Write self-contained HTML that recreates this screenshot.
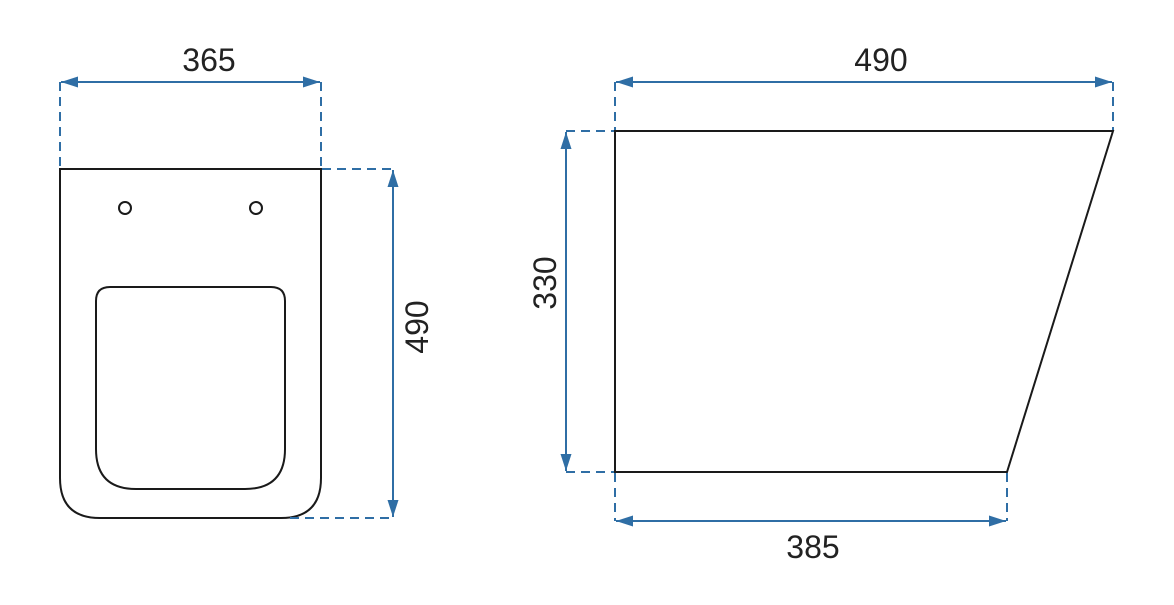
<!DOCTYPE html>
<html><head><meta charset="utf-8"><style>
html,body{margin:0;padding:0;background:#fff}
svg{display:block}
text{font-family:"Liberation Sans",sans-serif;font-size:32px;fill:#222}
</style></head><body>
<svg width="1174" height="605" viewBox="0 0 1174 605" xmlns="http://www.w3.org/2000/svg">
<defs>
<marker id="a" viewBox="0 0 17 11" refX="17" refY="5.5" markerWidth="17" markerHeight="11" markerUnits="userSpaceOnUse" orient="auto-start-reverse">
<path d="M0,0 L17,5.5 L0,11 Z" fill="#2f6ea5"/>
</marker>
</defs>
<g fill="none" stroke="#1a1a1a" stroke-width="2">
<path d="M60,169 H321 V478 Q321,518 281,518 H100 Q60,518 60,478 Z"/>
<path d="M110,287 H271 Q285,287 285,301 V449 Q285,489 245,489 H136 Q96,489 96,449 V301 Q96,287 110,287 Z"/>
<circle cx="125" cy="208" r="6"/>
<circle cx="256" cy="208" r="6"/>
<path d="M615,131 H1113 L1007,472 H615 Z"/>
</g>
<g fill="none" stroke="#2f6ea5" stroke-width="2" stroke-dasharray="9,6">
<path d="M60,82 V168"/>
<path d="M321,82 V168"/>
<path d="M322,169 H393"/>
<path d="M290,518 H393"/>
<path d="M615,82 V130"/>
<path d="M1113,82 V130"/>
<path d="M566,131 H614"/>
<path d="M566,472 H614"/>
<path d="M615,473 V521"/>
<path d="M1007,473 V521"/>
</g>
<g stroke="#2f6ea5" stroke-width="2">
<line x1="61" y1="82" x2="320" y2="82" marker-start="url(#a)" marker-end="url(#a)"/>
<line x1="393" y1="170" x2="393" y2="517" marker-start="url(#a)" marker-end="url(#a)"/>
<line x1="616" y1="82" x2="1112" y2="82" marker-start="url(#a)" marker-end="url(#a)"/>
<line x1="566" y1="132" x2="566" y2="471" marker-start="url(#a)" marker-end="url(#a)"/>
<line x1="616" y1="521" x2="1006" y2="521" marker-start="url(#a)" marker-end="url(#a)"/>
</g>
<text x="209" y="71" text-anchor="middle">365</text>
<text x="881" y="71" text-anchor="middle">490</text>
<text x="813" y="558" text-anchor="middle">385</text>
<text transform="translate(428,327) rotate(-90)" text-anchor="middle">490</text>
<text transform="translate(556,283) rotate(-90)" text-anchor="middle">330</text>
</svg>
</body></html>
